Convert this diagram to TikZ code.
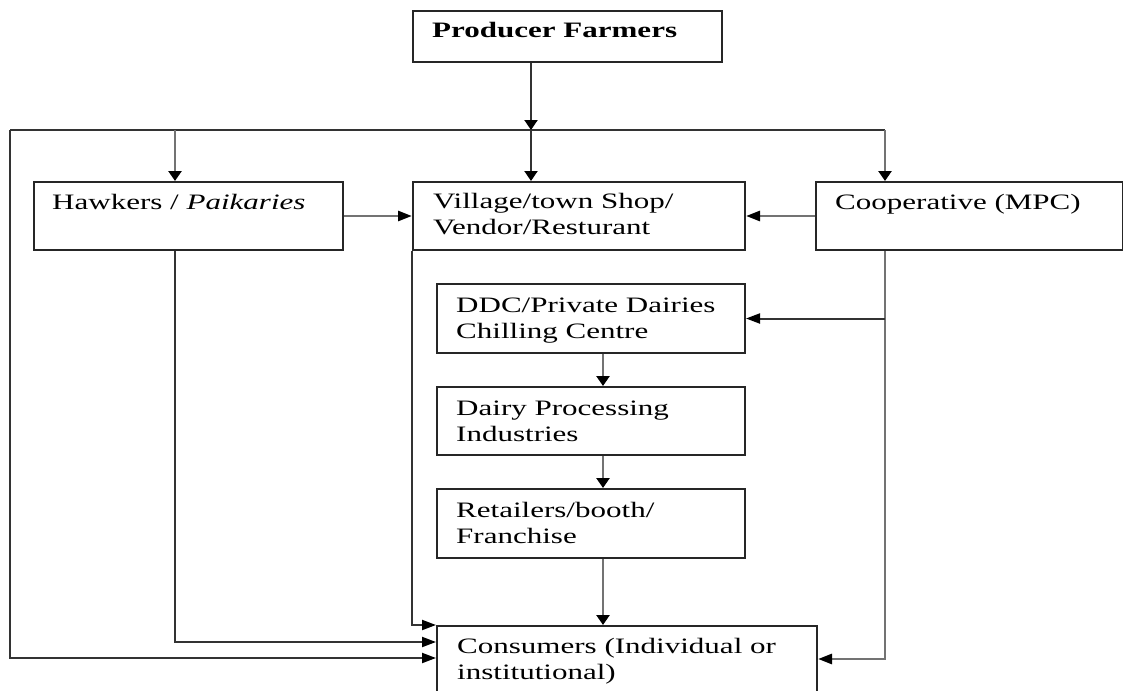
\documentclass[tikz,border=0pt]{standalone}
\usepackage{fontspec}
\setmainfont[FakeStretch=1.41]{Liberation Serif}
\usetikzlibrary{arrows.meta}

\begin{document}
\begin{tikzpicture}[x=1pt,y=-1pt,
  >={Triangle[length=10pt,width=13pt,color=black]},
  box/.style={draw=black!85,line width=2pt,anchor=north west,inner sep=0pt},
  lbl/.style={anchor=base west,inner sep=0pt,font=\fontsize{22}{26}\selectfont,align=left},
  conn/.style={draw=black!80,line width=2pt},
  conng/.style={draw=black!55,line width=2.8pt},
  harr/.style={-{Triangle[length=14pt,width=10pt,color=black]}}]
\useasboundingbox (0,0) rectangle (1123,690);
\clip (0,0) rectangle (1123,690);

% boxes
\node[box,minimum width=309,minimum height=51] (prod) at (412,10) {};
\node[box,minimum width=309,minimum height=68] (hawk) at (33,181) {};
\node[box,minimum width=332,minimum height=68] (vill) at (412,181) {};
\node[box,minimum width=307,minimum height=68] (coop) at (815,181) {};
\node[box,minimum width=308,minimum height=69] (ddc) at (436,283) {};
\node[box,minimum width=308,minimum height=68] (dpi) at (436,386) {};
\node[box,minimum width=308,minimum height=69] (ret) at (436,488) {};
\node[box,minimum width=380,minimum height=90] (cons) at (436,625) {};

% texts (two-line texts sit on their last line)
\node[lbl] (prodtxt) at ([shift={(20,28)}]prod.north west) {\textbf{Producer Farmers}};
\node[lbl] (hawktxt) at ([shift={(19,28)}]hawk.north west) {Hawkers / \textit{Paikaries}};
\node[lbl] (villtxt) at ([shift={(21,53)}]vill.north west) {Village/town Shop/\\Vendor/Resturant};
\node[lbl] (cooptxt) at ([shift={(20,28)}]coop.north west) {Cooperative (MPC)};
\node[lbl] (ddctxt) at ([shift={(20,55)}]ddc.north west) {DDC/Private Dairies\\Chilling Centre};
\node[lbl] (dpitxt) at ([shift={(20,55)}]dpi.north west) {Dairy Processing\\Industries};
\node[lbl] (rettxt) at ([shift={(20,55)}]ret.north west) {Retailers/booth/\\Franchise};
\node[lbl] (constxt) at ([shift={(21,54)}]cons.north west) {Consumers (Individual or\\institutional)};

% distribution line
\coordinate (bw) at (10,130);
\coordinate (be) at (885,130);
\coordinate (hk) at (175,130);
\coordinate (mid) at (531,130);
\draw[conn] (bw) -- (be);
\draw[conn,->] (prod.south -| mid) -- (mid);
\draw[conng,->] (hk) -- (hk |- hawk.north);
\draw[conn,->] (mid) -- (mid |- vill.north);
\draw[conng,->] (be) -- (be |- coop.north);

% into the shop
\draw[conng,harr] (hawk.east) -- (vill.west);
\draw[conng,harr] (coop.west) -- (vill.east);

% cooperative channel
\draw[conng,harr] (coop.south -| be) |- ([shift={(0,34)}]cons.north east);
\draw[conn,harr] (ddc.east -| be) -- (ddc.east);

% dairy chain
\draw[conng,->] ([xshift=12pt]ddc.south) -- ([xshift=12pt]dpi.north);
\draw[conng,->] ([xshift=12pt]dpi.south) -- ([xshift=12pt]ret.north);
\draw[conng,->] ([xshift=12pt]ret.south) -- ([xshift=12pt]ret.south |- cons.north);

% to consumers
\draw[conn,harr] (vill.south west) |- (cons.north west);
\draw[conn,harr] (hawk.south -| hk) |- ([shift={(0,17)}]cons.north west);
\draw[conn,harr] (bw) |- ([shift={(0,33)}]cons.north west);

\end{tikzpicture}
\end{document}
